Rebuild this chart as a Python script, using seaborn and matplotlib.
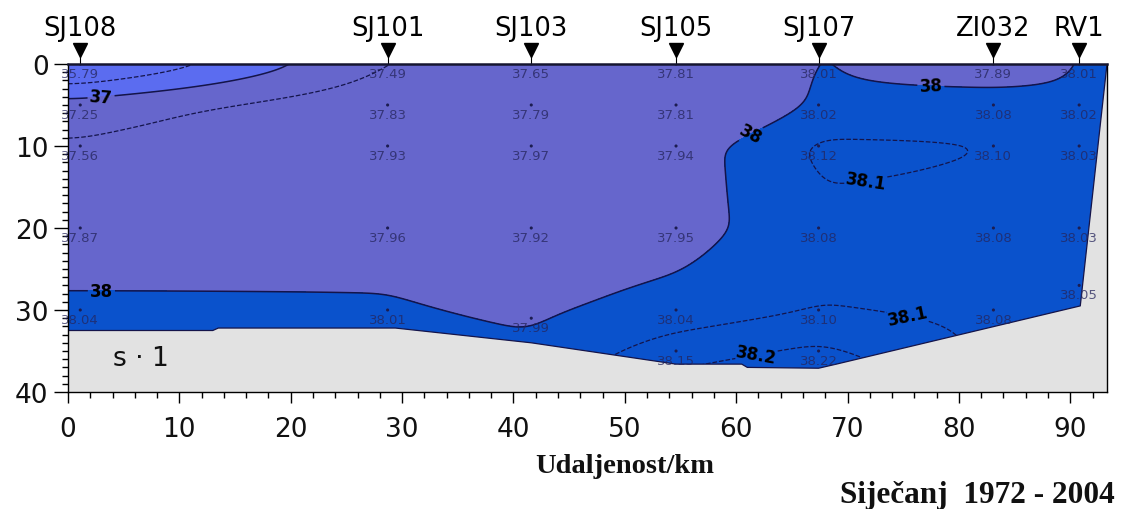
import numpy as np
import pandas as pd
import matplotlib
matplotlib.use("Agg")
import matplotlib.pyplot as plt
from matplotlib.ticker import MultipleLocator
import seaborn as sns

# Stations along the section and their distance from the start (km)
stations = ["SJ108", "SJ101", "SJ103", "SJ105", "SJ107", "ZI032", "RV1"]
station_km = [1.1, 28.7, 41.6, 54.6, 67.4, 83.1, 90.8]

# Sampling depths (m) and mean salinity at each station
depth_sj108 = [0, 5, 10, 20, 30]
sal_sj108 = [35.79, 37.25, 37.56, 37.87, 38.04]
depth_sj101 = [0, 5, 10, 20, 30]
sal_sj101 = [37.49, 37.83, 37.93, 37.96, 38.01]
depth_sj103 = [0, 5, 10, 20, 31]
sal_sj103 = [37.65, 37.79, 37.97, 37.92, 37.99]
depth_sj105 = [0, 5, 10, 20, 30, 35]
sal_sj105 = [37.81, 37.81, 37.94, 37.95, 38.04, 38.15]
depth_sj107 = [0, 5, 10, 20, 30, 35]
sal_sj107 = [38.01, 38.02, 38.12, 38.08, 38.10, 38.22]
depth_zi032 = [0, 5, 10, 20, 30]
sal_zi032 = [37.89, 38.08, 38.10, 38.08, 38.08]
depth_rv1 = [0, 5, 10, 20, 27]
sal_rv1 = [38.01, 38.02, 38.03, 38.03, 38.05]

# Sea-floor profile along the section
bottom_km = [0, 13, 13.5, 29.4, 41.6, 54.6, 60.5, 61, 67.4, 69, 90.9, 93.3]
bottom_m = [32.5, 32.5, 32.2, 32.2, 34.0, 36.6, 36.6, 37.0, 37.1, 36.6, 29.5, 0]

# Isohaline levels
fill_levels = [35, 37, 38, 39]
plain_levels = [36.5, 37.5]
labelled_levels = [37, 38, 38.1, 38.2]

profiles_depth = [depth_sj108, depth_sj101, depth_sj103, depth_sj105,
                  depth_sj107, depth_zi032, depth_rv1]
profiles_sal = [sal_sj108, sal_sj101, sal_sj103, sal_sj105,
                sal_sj107, sal_zi032, sal_rv1]

X_MAX, Z_MAX = 93.3, 40

# ---------------------------------------------------------------- gridding
def vertical_profile(depths, values, z):
    d = np.asarray(depths, float)
    v = np.asarray(values, float)
    out = np.interp(z, d, v)
    slope = (v[-1] - v[-2]) / (d[-1] - d[-2])
    deep = z > d[-1]
    out[deep] = v[-1] + slope * (z[deep] - d[-1])
    return out


def gaussian_smooth(a, sigma_rows, sigma_cols):
    """Separable Gaussian smoothing with edge padding (sigmas in cells)."""
    out = a.copy()
    for axis, sig in ((0, sigma_rows), (1, sigma_cols)):
        r = int(3 * sig)
        k = np.exp(-0.5 * (np.arange(-r, r + 1) / sig) ** 2)
        k /= k.sum()
        pad = [(0, 0), (0, 0)]
        pad[axis] = (r, r)
        p = np.pad(out, pad, mode="edge")
        out = np.apply_along_axis(lambda v: np.convolve(v, k, mode="valid"), axis, p)
    return out


xg = np.linspace(0, X_MAX, 600)
zg = np.linspace(0, Z_MAX, 401)
cols = np.array([vertical_profile(d, s, zg)
                 for d, s in zip(profiles_depth, profiles_sal)])  # (station, z)
grid = np.array([np.interp(xg, station_km, cols[:, k]) for k in range(zg.size)])
dx = xg[1] - xg[0]
dz = zg[1] - zg[0]
grid = gaussian_smooth(grid, 1.0 / dz, 1.3 / dx)
XX, ZZ = np.meshgrid(xg, zg)

# long table of the posted observations
records = []
for name, km, d, s in zip(stations, station_km, profiles_depth, profiles_sal):
    for dd, ss in zip(d, s):
        records.append({"station": name, "km": km, "depth": dd, "sal": ss})
obs = pd.DataFrame(records)

# ---------------------------------------------------------------- figure
sns.set_theme(style="ticks")
plt.rcParams["font.family"] = ["DejaVu Sans"]

fig = plt.figure(figsize=(11.23, 5.10), dpi=100)
ax = fig.add_axes([68 / 1123, 1 - 393 / 510, (1107 - 68) / 1123, (393 - 65) / 510])

band_colors = ["#5b6cf0", "#6666cc", "#0a52cc"]
ax.contourf(XX, ZZ, grid, levels=fill_levels, colors=band_colors, zorder=1)

line_color = "#14144a"
ax.contour(XX, ZZ, grid, levels=plain_levels, colors=line_color,
           linestyles="--", linewidths=0.9, zorder=2)
lab_styles = ["-" if lv in (37, 38) else "--" for lv in labelled_levels]
cs = ax.contour(XX, ZZ, grid, levels=labelled_levels, colors=line_color,
                linestyles=lab_styles,
                linewidths=[1.1 if s == "-" else 0.9 for s in lab_styles],
                zorder=2)

label_spots = [(3.0, 4.5), (3.0, 27.0), (61.5, 9.0), (77.5, 2.2),
               (72.0, 17.5), (76.0, 27.0), (62.0, 36.8)]
texts = ax.clabel(cs, manual=label_spots, inline=True, inline_spacing=3,
                  fontsize=12, colors="black", fmt=lambda v: f"{v:g}")
for t in texts:
    t.set_fontweight("bold")

# sea floor
poly_x = bottom_km + [X_MAX, 0]
poly_z = bottom_m + [Z_MAX, Z_MAX]
ax.fill(poly_x, poly_z, color="#e2e2e2", zorder=3, lw=0)
ax.plot(bottom_km, bottom_m, color=line_color, lw=0.9, zorder=3)

# observation points and values
sns.scatterplot(data=obs, x="km", y="depth", ax=ax, s=5, color="#1c1c50",
                edgecolor="none", legend=False, zorder=4)
for _, r in obs.iterrows():
    ax.annotate(f"{r.sal:.2f}", (r.km, r.depth), xytext=(0, -6.5),
                textcoords="offset points", ha="center", va="center",
                fontsize=9.5, color="#25255c", alpha=0.75, zorder=4,
                annotation_clip=False)

# station markers above the frame
trans = ax.get_xaxis_transform()
for name, km in zip(stations, station_km):
    ax.plot([km, km], [1.0, 1.025], transform=trans, color="black", lw=0.8,
            clip_on=False)
    ax.plot(km, 1.042, marker="v", markersize=10, color="black",
            transform=trans, clip_on=False)
    ax.text(km, 1.088, name, transform=trans, ha="center", va="baseline",
            fontsize=18.5, color="black")

ax.text(6.5, 35.8, "s \u00b7 1", ha="center", va="center", fontsize=19,
        color="#111111", zorder=5)

# axes
ax.set_xlim(0, X_MAX)
ax.set_ylim(Z_MAX, 0)
ax.xaxis.set_major_locator(MultipleLocator(10))
ax.xaxis.set_minor_locator(MultipleLocator(2))
ax.yaxis.set_major_locator(MultipleLocator(10))
ax.yaxis.set_minor_locator(MultipleLocator(1))
ax.tick_params(axis="both", which="major", direction="out", length=8, width=1,
               labelsize=19, color="black", labelcolor="#111111")
ax.tick_params(axis="both", which="minor", direction="out", length=4, width=1,
               color="black")
ax.tick_params(axis="x", which="major", pad=9)
ax.tick_params(axis="y", which="major", pad=4, length=10)
ax.tick_params(top=False, right=False, which="both")
ax.set_xlabel("")
ax.set_ylabel("")
for side, sp in ax.spines.items():
    sp.set_visible(True)
    sp.set_color("black")
    sp.set_linewidth(1.0)
    sp.set_zorder(6)
ax.spines["top"].set_linewidth(1.8)
ax.spines["top"].set_color("#151530")

fig.text(625 / 1123, 1 - 467 / 510, "Udaljenost/km", ha="center", va="center",
         fontsize=20.5, fontweight="bold", family="Liberation Serif", color="#111111")
fig.text(977 / 1123, 1 - 496 / 510, "Siječanj  1972 - 2004", ha="center",
         va="center", fontsize=22.5, fontweight="bold", family="Liberation Serif",
         color="#111111")

fig.savefig("out.png", dpi=100, facecolor="white")
